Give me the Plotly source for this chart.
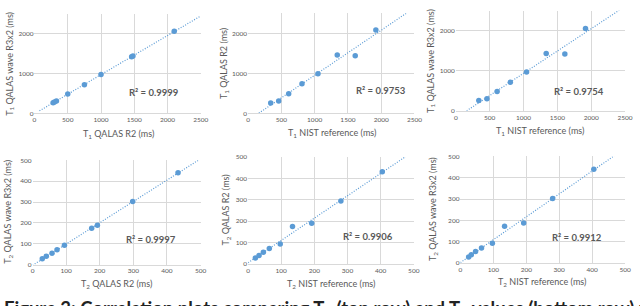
import numpy as np
import plotly.graph_objects as go

# ---- data ----
p1_x = [280, 300, 330, 500, 750, 1000, 1460, 1480, 2100]
p1_y = [270, 290, 310, 490, 720, 975, 1420, 1440, 2060]
p2_x = [340, 460, 610, 810, 1050, 1340, 1610, 1920]
p2_y = [260, 310, 490, 740, 990, 1460, 1440, 2080]
p3_x = [340, 460, 610, 805, 1045, 1335, 1610, 1915]
p3_y = [260, 300, 480, 715, 970, 1430, 1420, 2060]
p4_x = [29, 41, 58, 73, 95, 176, 193, 298, 433]
p4_y = [28, 40, 55, 71, 93, 174, 189, 303, 440]
p5_x = [22, 33, 46, 64, 97, 134, 192, 280, 405]
p5_y = [28, 40, 55, 72, 93, 175, 190, 295, 432]
p6_x = [25, 33, 46, 64, 97, 134, 192, 280, 405]
p6_y = [28, 38, 54, 70, 92, 172, 188, 303, 440]
r2_labels = ["R² = 0.9999", "R² = 0.9753", "R² = 0.9754", "R² = 0.9997", "R² = 0.9906", "R² = 0.9912"]
x_titles = ["T<sub>1</sub> QALAS R2 (ms)", "T<sub>1</sub> NIST reference (ms)", "T<sub>1</sub> NIST reference (ms)",
            "T<sub>2</sub> QALAS R2 (ms)", "T<sub>2</sub> NIST reference (ms)", "T<sub>2</sub> NIST reference (ms)"]
y_titles = ["T<sub>1</sub> QALAS wave R3x2 (ms)", "T<sub>1</sub> QALAS R2 (ms)", "T<sub>1</sub> QALAS wave R3x2 (ms)",
            "T<sub>2</sub> QALAS wave R3x2 (ms)", "T<sub>2</sub> QALAS R2 (ms)", "T<sub>2</sub> QALAS wave R3x2 (ms)"]
caption = "Figure 3: Correlation plots comparing T<sub>1</sub> (top row) and T<sub>2</sub> values (bottom row) for the"

panels = [(p1_x, p1_y), (p2_x, p2_y), (p3_x, p3_y), (p4_x, p4_y), (p5_x, p5_y), (p6_x, p6_y)]

W, H = 640, 306
def px(v): return v / W
def py(v): return 1 - v / H

# layout geometry (pixels)
boxes = [  # x0, x1, ytop, ybottom
    (33, 202, 10, 112),
    (250, 419, 9.5, 112),
    (461, 633, 7, 109.3),
    (31, 201.7, 160, 266.7),
    (250, 418.3, 156.7, 266),
    (465.7, 633, 156, 265),
]
ranges = [(2500, 2500, 1000, 500)] * 3 + [(500, 500, 100, 100)] * 3
trend_span = [(75, 2500), (0, 2500), (0, 2500), (0, 500), (0, 500), (0, 500)]
r2_pos = [(154, 91), (385, 89), (586, 90), (151, 240.7), (372, 238.3), (584, 239.3)]
xt_pos = [(118, 133), (335, 132), (547, 130), (116, 286.7), (334, 286.7), (549, 285)]
yt_pos = [(7.3, 61), (225, 61), (435, 58), (6.7, 213), (228, 211), (437.7, 210)]

BLUE = "#5B9BD5"
GRID = "#D9D9D9"
TXT = "#595959"
FONT = "Lato, Open Sans, sans-serif"

fig = go.Figure()
annotations = []
for i, ((xs, ys), (x0, x1, yt, yb), (xmax, ymax, ydt, xdt)) in enumerate(zip(panels, boxes, ranges)):
    n = i + 1
    xa = "x" if n == 1 else f"x{n}"
    ya = "y" if n == 1 else f"y{n}"
    slope, icpt = np.polyfit(xs, ys, 1)
    tx = np.array(trend_span[i], dtype=float)
    fig.add_trace(go.Scatter(x=tx, y=slope * tx + icpt, mode="lines",
                             line=dict(color=BLUE, width=1.2, dash="1px,1.6px"),
                             xaxis=xa, yaxis=ya, showlegend=False, hoverinfo="skip"))
    fig.add_trace(go.Scatter(x=xs, y=ys, mode="markers",
                             marker=dict(color=BLUE, size=5.5),
                             xaxis=xa, yaxis=ya, showlegend=False, cliponaxis=False))
    key_x = "xaxis" if n == 1 else f"xaxis{n}"
    key_y = "yaxis" if n == 1 else f"yaxis{n}"
    fig.layout[key_x] = dict(domain=[px(x0), px(x1)], range=[0, xmax], dtick=xdt, tick0=0,
                             anchor=ya, showgrid=True, gridcolor=GRID, gridwidth=1,
                             zeroline=False, showline=True, linecolor=GRID, mirror=False,
                             ticks="", tickfont=dict(size=6.5, color=TXT, family=FONT),
                             fixedrange=True)
    fig.layout[key_y] = dict(domain=[py(yb), py(yt)], range=[0, ymax], dtick=ydt, tick0=0,
                             anchor=xa, showgrid=True, gridcolor=GRID, gridwidth=1,
                             zeroline=False, showline=False,
                             ticks="", tickfont=dict(size=6.5, color=TXT, family=FONT),
                             fixedrange=True)
    annotations.append(dict(x=px(r2_pos[i][0]), y=py(r2_pos[i][1]), xref="paper", yref="paper",
                            xanchor="center", yanchor="middle",
                            text=f"<b>{r2_labels[i]}</b>", showarrow=False,
                            font=dict(size=9.5, color=TXT, family=FONT)))
    annotations.append(dict(x=px(xt_pos[i][0]), y=py(xt_pos[i][1]), xref="paper", yref="paper",
                            xanchor="center", yanchor="middle",
                            text=x_titles[i], showarrow=False,
                            font=dict(size=9, color=TXT, family=FONT)))
    annotations.append(dict(x=px(yt_pos[i][0]), y=py(yt_pos[i][1]), xref="paper", yref="paper",
                            xanchor="center", yanchor="middle",
                            text=y_titles[i], showarrow=False, textangle=-90,
                            font=dict(size=9, color=TXT, family=FONT)))

annotations.append(dict(x=0, y=py(297.5), xref="paper", yref="paper", xanchor="left", yanchor="top",
                        text=f"<b>{caption}</b>", showarrow=False,
                        font=dict(size=18.5, color="#222222", family=FONT)))

fig.update_layout(width=W, height=H, margin=dict(l=0, r=0, t=0, b=0),
                  paper_bgcolor="white", plot_bgcolor="white",
                  annotations=annotations, showlegend=False)
fig.write_html("out.html", config={"displayModeBar": False},
               post_script="document.body.style.margin='0';document.body.style.overflow='hidden';")
